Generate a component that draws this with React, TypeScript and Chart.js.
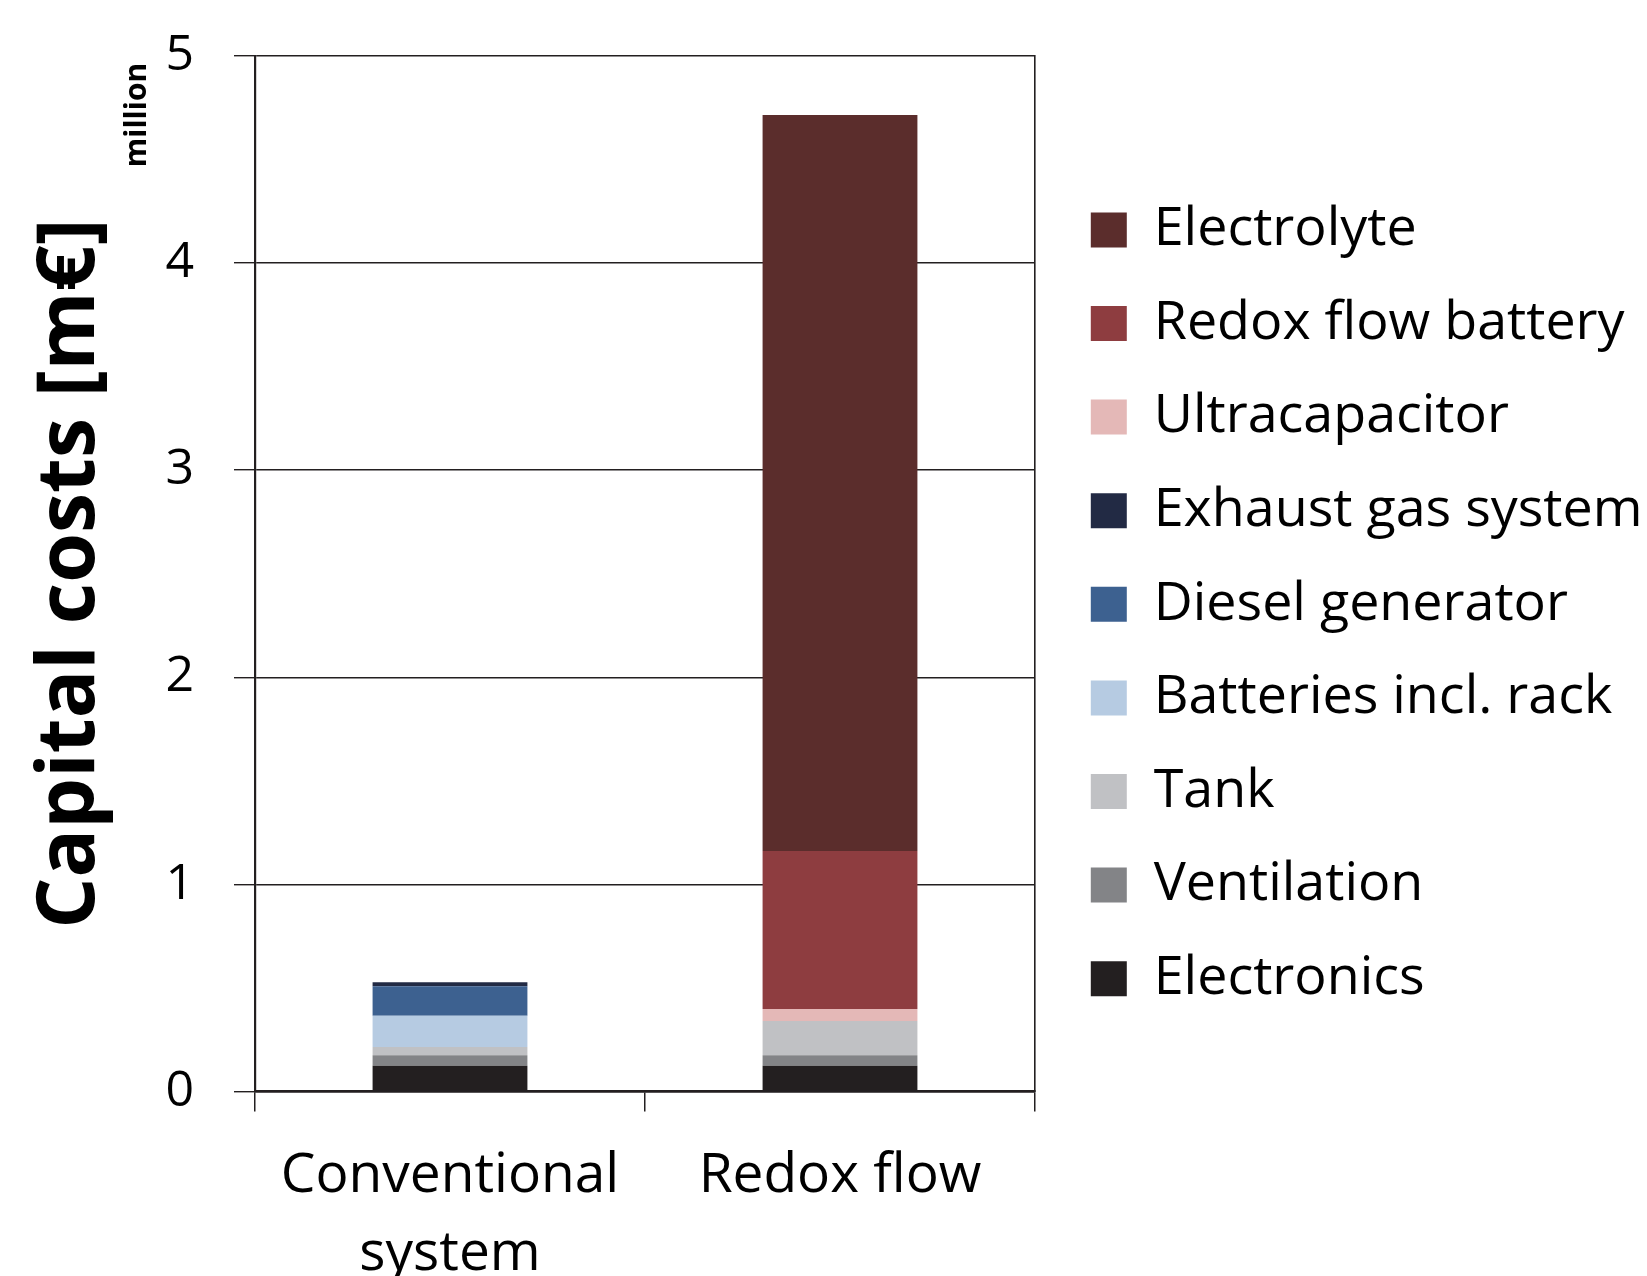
import React, { useEffect, useRef } from 'react';
import { Chart, registerables } from 'chart.js';

Chart.register(...registerables);

// ---- data ----
const categories: (string | string[])[] = [['Conventional', 'system'], 'Redox flow'];

const seriesNames = [
  'Electronics',
  'Ventilation',
  'Tank',
  'Batteries incl. rack',
  'Diesel generator',
  'Exhaust gas system',
  'Ultracapacitor',
  'Redox flow battery',
  'Electrolyte',
];

const electronics = [0.124, 0.124];
const ventilation = [0.05, 0.05];
const tank = [0.04, 0.166];
const batteries = [0.151, 0];
const dieselGenerator = [0.143, 0];
const exhaustGas = [0.019, 0];
const ultracapacitor = [0, 0.058];
const redoxFlowBattery = [0, 0.763];
const electrolyte = [0, 3.554];

const seriesValues = [
  electronics,
  ventilation,
  tank,
  batteries,
  dieselGenerator,
  exhaustGas,
  ultracapacitor,
  redoxFlowBattery,
  electrolyte,
];

const seriesColors = [
  '#231f20',
  '#838487',
  '#c0c1c4',
  '#b6cbe2',
  '#3d6190',
  '#222a44',
  '#e4b8b7',
  '#8e3d40',
  '#5b2d2c',
];

const yTickValues = [0, 1, 2, 3, 4, 5];
const yTitle = 'Capital costs [m€]';
const unitLabel = 'million';

const FONT = "'Open Sans', 'Noto Sans', sans-serif";
const LINE = '#231f20';

const unitPlugin = {
  id: 'unitLabel',
  afterDraw(chart: any) {
    const { ctx } = chart;
    const ys = chart.scales.y;
    ctx.save();
    ctx.translate(ys.left + 137, chart.chartArea.top + 59);
    ctx.rotate(-Math.PI / 2);
    ctx.font = `bold 30px ${FONT}`;
    ctx.fillStyle = '#000';
    ctx.textAlign = 'center';
    ctx.textBaseline = 'middle';
    ctx.fillText(unitLabel, 0, 0);
    ctx.restore();
  },
};

export default function App() {
  const ref = useRef<HTMLCanvasElement | null>(null);

  useEffect(() => {
    if (!ref.current) return;
    const chart = new Chart(ref.current, {
      type: 'bar',
      data: {
        labels: categories as any,
        datasets: seriesNames.map((name, i) => ({
          label: name,
          data: seriesValues[i],
          backgroundColor: seriesColors[i],
          borderWidth: 0,
          categoryPercentage: 1,
          barPercentage: 0.397,
        })),
      },
      plugins: [unitPlugin],
      options: {
        responsive: false,
        animation: false,
        devicePixelRatio: 1,
        layout: { padding: { top: 56, left: 0, right: 0, bottom: 0 } },
        font: { family: FONT },
        plugins: {
          tooltip: { enabled: false },
          legend: {
            display: true,
            position: 'right',
            align: 'center',
            fullSize: false,
            maxWidth: 596,
            reverse: true,
            title: { display: true, text: '', padding: 0, font: { size: 51, lineHeight: 1.2 } },
            labels: {
              boxWidth: 36,
              boxHeight: 35,
              padding: 39.8,
              color: '#000',
              font: { family: FONT, size: 53.8 },
            },
          },
        },
        scales: {
          x: {
            stacked: true,
            offset: true,
            grid: {
              offset: true,
              drawOnChartArea: false,
              drawTicks: true,
              tickLength: 20,
              color: LINE,
              lineWidth: 1.5,
            },
            border: { display: true, color: LINE, width: 2.5 },
            ticks: {
              color: '#000',
              padding: 26,
              maxRotation: 0,
              autoSkip: false,
              font: { family: FONT, size: 55, lineHeight: 1.42 },
            },
            afterFit: (s: any) => {
              s.height = 184.6;
            },
          },
          y: {
            stacked: true,
            min: 0,
            max: 5,
            position: 'left',
            afterBuildTicks: (s: any) => {
              s.ticks = yTickValues.map((v) => ({ value: v }));
            },
            grid: {
              drawOnChartArea: true,
              drawTicks: true,
              tickLength: 21,
              color: LINE,
              lineWidth: 1.4,
            },
            border: { display: true, color: LINE, width: 2.2 },
            ticks: {
              color: '#000',
              padding: 40,
              font: { family: FONT, size: 50 },
            },
            title: {
              display: true,
              text: yTitle,
              color: '#000',
              padding: { top: 23, bottom: 0 },
              font: { family: FONT, size: 80.5, weight: 'bold', lineHeight: 1.2 },
            },
            afterFit: (s: any) => {
              s.width = 255;
              s.paddingTop = 30;
              s.paddingBottom = 30;
            },
          },
          y2: {
            type: 'linear',
            position: 'right',
            display: true,
            min: 0,
            max: 5,
            grid: { drawOnChartArea: false, drawTicks: false },
            ticks: { display: false },
            border: { display: true, color: LINE, width: 1.6 },
            afterFit: (s: any) => {
              s.width = 16;
              s.paddingTop = 0;
              s.paddingBottom = 0;
            },
          },
        },
      } as any,
    });
    return () => chart.destroy();
  }, []);

  return (
    <div style={{ position: 'absolute', left: 0, top: 0, width: 1647, height: 1276, overflow: 'hidden', background: '#fff' }}>
      <canvas ref={ref} width={1647} height={1276} style={{ display: 'block' }} />
    </div>
  );
}
